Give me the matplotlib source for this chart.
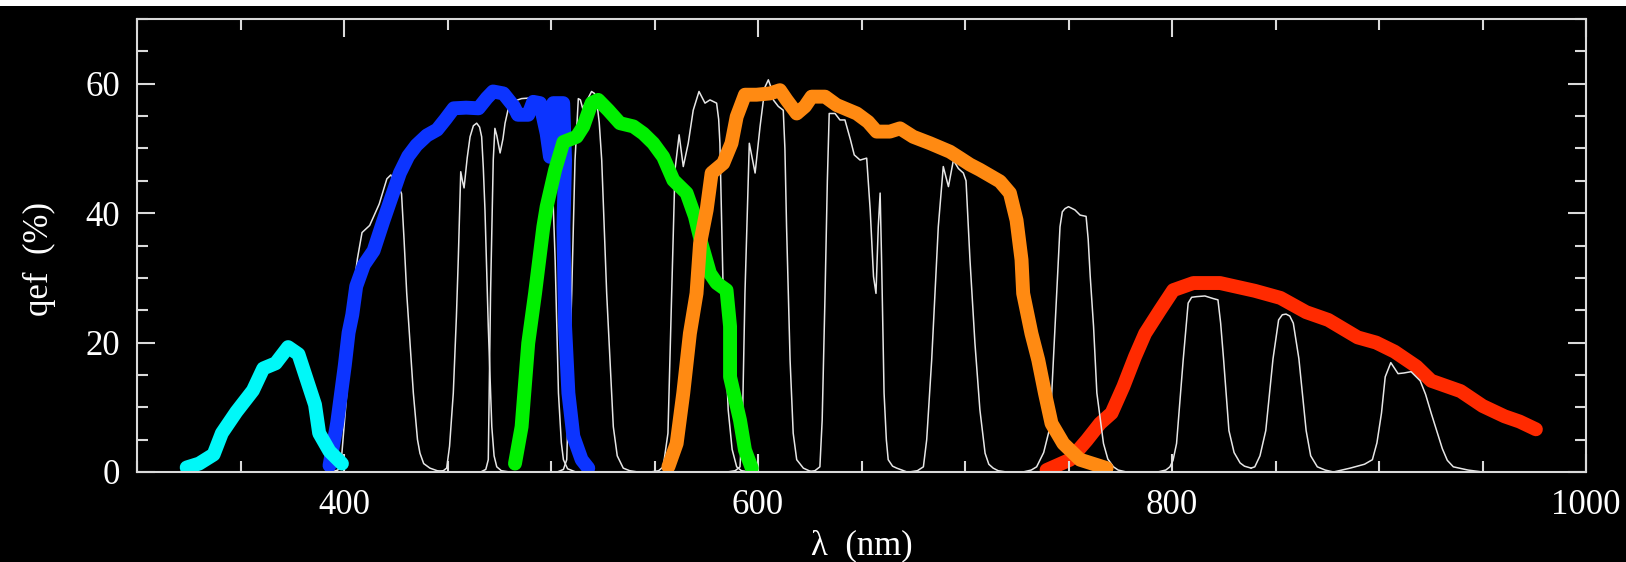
import matplotlib
matplotlib.use('Agg')
import matplotlib.pyplot as plt
from matplotlib.ticker import MultipleLocator
from matplotlib.patches import Rectangle

plt.rcParams['font.family'] = ['Liberation Serif', 'DejaVu Serif']

# ---- broad-band QE curves (thick coloured) ----
cyan_x = [324, 330, 337, 341, 348, 356, 361, 367, 373, 378, 382, 386, 388, 393, 399]
cyan_y = [0.7, 1.3, 2.7, 6.0, 9.3, 12.6, 16.0, 16.8, 19.3, 18.2, 14.3, 10.4, 6.0, 3.2, 1.3]

blue_x = [393, 396.7, 400.4, 402.2, 404, 405.9, 409.6, 414.3, 418.9, 423, 427, 431, 435, 440, 445, 449,
          453, 459, 465, 469, 472, 477, 482, 484, 489, 491.4, 494.7, 497.9, 499.5, 501.1, 503.5, 505.9,
          506.8, 506, 506.8, 508.4, 510.8, 514.8, 518]
blue_y = [1, 7.6, 16.5, 21.5, 24.3, 28.7, 32, 34.2, 38.7, 42.5, 46.2, 48.8, 50.5, 52, 52.9, 54.5,
          56.2, 56.3, 56.2, 57.8, 58.8, 58.5, 56.5, 55.2, 55.2, 57.2, 57, 52.3, 48.7, 57, 57, 57,
          48.2, 37.9, 22.5, 12.2, 5.5, 1.9, 0.6]

green_x = [482.6, 485.8, 489, 492.3, 496.3, 497.9, 502, 506, 512.4, 515.6, 519.6, 522.8, 527.7, 533.3,
           539.8, 544.6, 549.4, 554.2, 559.1, 565.5, 569.5, 572.7, 576.8, 580, 584.8, 586.5, 586.5,
           591.3, 593.7, 597]
green_y = [1.3, 7, 19.9, 27.6, 37.9, 41, 46.7, 51, 51.8, 53.4, 57, 57.5, 55.9, 53.9,
           53.4, 52.3, 50.8, 48.7, 45.1, 43.1, 39.5, 35.3, 30.7, 29.2, 28.1, 22.5, 14.7,
           8, 3.4, 0.6]

orange_x = [556.7, 560.7, 563.9, 567.1, 570.3, 572, 575.2, 577.6, 583.2, 587.2, 589.7, 593.7, 599.3,
            605.8, 610.6, 613.8, 618.7, 622.7, 625.9, 632.4, 638, 647.7, 653.2, 657.3, 663.7, 668.6,
            675, 683.1, 692.7, 697.6, 702.4, 707.2, 716.9, 721.7, 724.9, 727.3, 728.1, 732.1, 735.4,
            738.6, 741.8, 747.5, 755.6, 768.4]
orange_y = [0.8, 4.4, 12.2, 21.4, 27.6, 35.3, 40.5, 46.2, 47.7, 50.8, 54.9, 58.3, 58.3,
            58.5, 59, 57.5, 55.4, 56.5, 58, 58, 56.7, 55.4, 54.1, 52.6, 52.6, 53.1,
            51.8, 50.8, 49.5, 48.5, 47.5, 46.7, 44.9, 43.1, 38.9, 32.8, 27.6, 21.4, 17.3,
            12.2, 7.5, 4.4, 1.9, 0.6]

red_x = [739.4, 750.7, 758.8, 765.2, 770.8, 776.5, 782.1, 787, 794.2, 800.6, 810.3, 823.2, 840,
         852.4, 864.8, 875.5, 889.7, 898.6, 907.5, 918.1, 925.2, 939.4, 950.1, 960.7, 967.9, 975.8]
red_y = [0.3, 1.9, 4.9, 7.5, 9.1, 13.2, 17.8, 21.4, 25, 28.1, 29.2, 29.2, 28,
         26.9, 24.7, 23.5, 20.8, 20, 18.6, 16.3, 14.1, 12.5, 10.2, 8.6, 7.8, 6.6]

# ---- narrow-band filter transmission curves (thin white) ----
f1_x = [394, 397, 398.5, 401.3, 404, 406.5, 408.7, 412.4, 417, 420.7, 422.6, 424.5, 426.3, 427.8, 429,
        430.3, 433.5, 435.5, 436.7, 438.5, 441.5, 445, 450]
f1_y = [0, 0.3, 1, 12, 27, 33, 37, 38.1, 41.4, 45.3, 45.9, 45, 44.2, 43, 36,
        27.6, 12.2, 5, 2.9, 1.3, 0.6, 0.2, 0]
f2_x = [444, 448, 449.6, 451, 452.8, 454.3, 455.2, 456.4, 457.2, 458, 459.5, 460.9, 462.5, 464.1, 465.5,
        466.5, 467.3, 468.1, 469.7, 471.4, 472.5, 473.8, 476, 480]
f2_y = [0, 0.2, 0.6, 4, 12.2, 24, 32.8, 46.4, 45, 43.9, 48.5, 51.8, 53.5, 53.9, 53.3,
        51.8, 47, 40.5, 22.5, 7, 2.5, 0.8, 0.2, 0]
f3_x = [466, 468.5, 469.7, 470.8, 472.1, 472.9, 473.8, 475.4, 476.8, 477.8, 479.4, 482, 485.8, 490, 495,
        498.5, 500.3, 502, 503.6, 505, 506, 508, 512]
f3_y = [0, 0.4, 1.9, 27.6, 48.2, 53.1, 52, 49.3, 51.5, 53.9, 56.2, 57.3, 57.7, 57.8, 57.5,
        54, 48.2, 32.8, 12.2, 4.5, 1.9, 0.5, 0]
f4_x = [503, 506, 507.6, 510, 511.6, 513.2, 514.2, 515.3, 517.5, 519.6, 521, 522, 523.3, 524.5, 526.9,
        530.1, 532, 534.9, 538, 542]
f4_y = [0, 0.4, 1.9, 27.6, 48.2, 57.7, 57.5, 56.2, 57.5, 58.8, 58.5, 57.5, 54, 48.2, 27.6,
        7, 2.5, 0.6, 0.2, 0]
f5_x = [548, 552, 554.2, 556.5, 558.3, 559.9, 561.9, 563.9, 566.3, 568.7, 571.5, 574.4, 576.8, 580, 581,
        581.6, 583.2, 585.6, 587.5, 589.7, 592, 596]
f5_y = [0, 0.2, 0.8, 6, 27.6, 46.7, 52.1, 47.2, 50.8, 55.9, 58.8, 57, 57.5, 57, 54.5,
        50.8, 27.6, 9.6, 3.5, 0.8, 0.2, 0]
f6_x = [585, 589, 591.3, 592.5, 593.7, 595.8, 597.2, 598.6, 601, 603.4, 605, 606.2, 607.4, 609.8, 612.2,
        613, 613.8, 615.5, 617, 618.7, 621.9, 626]
f6_y = [0, 0.2, 0.8, 8, 27.6, 50.8, 48.5, 46.2, 53.4, 59.5, 60.6, 59.5, 57.5, 56.5, 55.9,
        50, 37.9, 17.3, 6, 1.9, 0.6, 0]
f7_x = [623, 627.5, 629.9, 631, 632.4, 633.5, 634.4, 637.2, 639.6, 642, 644.7, 646.5, 649.3, 652.5, 654.2,
        655.8, 657, 658.1, 659, 659.7, 660.9, 662, 662.9, 665, 667, 672]
f7_y = [0, 0.2, 0.8, 8, 27.6, 45, 55.4, 55.4, 54.4, 54.4, 51.3, 49, 48.2, 48.5, 40.5,
        30.2, 27.6, 37.9, 43.1, 32.8, 12.2, 5, 1.9, 0.9, 0.6, 0]
f8_x = [673, 677, 679.9, 681.5, 683.9, 687.1, 689.5, 692, 694.4, 696.8, 699.2, 700.5, 702.4, 704.8, 707.2,
        709.7, 711.5, 713.6, 716, 720]
f8_y = [0, 0.2, 0.8, 5, 17.3, 37.9, 47.2, 44.1, 48.2, 46.9, 46.2, 45, 32.8, 19.9, 9.6,
        2.9, 1.2, 0.6, 0.2, 0]
f9_x = [728, 732, 734.6, 738, 741.1, 743.5, 745.9, 747, 748.3, 750, 753.1, 755.6, 758.5, 759.5, 760.5,
        762.1, 763.7, 766.9, 769, 771.7, 774, 778]
f9_y = [0, 0.3, 0.8, 3, 7, 22.5, 37.9, 40.2, 40.7, 41, 40.5, 39.7, 39.5, 36, 30.2,
        22.5, 12.2, 4.4, 2, 0.8, 0.3, 0]
f10_x = [793, 797, 799, 800.5, 802.2, 805.4, 807.8, 809.5, 811.9, 815.9, 819.9, 822.2, 823.5, 824.9,
         827.5, 830, 832.9, 835, 838.2]
f10_y = [0, 0.3, 0.8, 1.8, 4.4, 17.3, 26.1, 27, 27.1, 27.2, 26.8, 26.6, 23, 17.5,
         6.4, 3, 1.4, 0.9, 0.6]
f11_x = [838.2, 840, 842.5, 845.3, 848.8, 851.5, 853.3, 855.1, 856.9, 858.6, 861.3, 864.8, 867, 870.2,
         874, 878]
f11_y = [0.6, 0.8, 2.5, 6.4, 17.5, 23.5, 24.3, 24.4, 24.1, 23, 17.5, 6.4, 2.5, 0.8, 0.3, 0]
f12_x = [878, 886.1, 893, 896.8, 899, 901.2, 903, 905.7, 909.2, 912, 915.5, 919.9, 922.5, 925.2, 930.6,
         933, 935.9, 943, 950]
f12_y = [0, 0.6, 1.2, 1.9, 4.5, 9.1, 14.7, 16.9, 15.2, 15.3, 15.5, 14.1, 12, 9.1, 3.6,
         1.8, 0.8, 0.3, 0]

x_label = 'λ  (nm)'
y_label = 'qef  (%)'

W, H = 1626, 562
fig = plt.figure(figsize=(W / 100, H / 100), dpi=100, facecolor='black')
ax = fig.add_axes([137 / W, (H - 472) / H, 1449 / W, 453 / H])
ax.set_facecolor('black')

# white strip at the very top of the image
fig.add_artist(Rectangle((0, 1 - 6 / H), 1, 6 / H, transform=fig.transFigure,
                         facecolor='white', edgecolor='none', zorder=10))

filters = [(f1_x, f1_y), (f2_x, f2_y), (f3_x, f3_y), (f4_x, f4_y), (f5_x, f5_y), (f6_x, f6_y),
           (f7_x, f7_y), (f8_x, f8_y), (f9_x, f9_y), (f10_x, f10_y), (f11_x, f11_y), (f12_x, f12_y)]
for fx, fy in filters:
    ax.plot(fx, fy, color='#e6e6e6', lw=1.1, zorder=2, solid_joinstyle='round')

lw = 10
kw = dict(lw=lw, solid_capstyle='round', solid_joinstyle='round')
ax.plot(red_x, red_y, color='#ff2a00', zorder=1.5, **kw)
ax.plot(blue_x, blue_y, color='#0c34ff', zorder=3, **kw)
ax.plot(cyan_x, cyan_y, color='#00f8f8', zorder=3.1, **kw)
ax.plot(green_x, green_y, color='#00f000', zorder=3.2, **kw)
ax.plot(orange_x, orange_y, color='#ff8a12', zorder=3.3, **kw)

ax.set_xlim(300, 1000)
ax.set_ylim(0, 70)
ax.xaxis.set_major_locator(MultipleLocator(200))
ax.xaxis.set_minor_locator(MultipleLocator(50))
ax.yaxis.set_major_locator(MultipleLocator(20))
ax.yaxis.set_minor_locator(MultipleLocator(5))

axis_col = '#dadada'
for s in ax.spines.values():
    s.set_color(axis_col)
    s.set_linewidth(1.5)
    s.set_zorder(5)
ax.tick_params(which='both', direction='in', top=True, right=True, color=axis_col,
               labelcolor='white', width=1.5, labelsize=25, pad=12)
ax.tick_params(which='major', length=13)
ax.tick_params(which='minor', length=8)

ax.set_xlabel(x_label, color='white', fontsize=25, va='center')
ax.xaxis.set_label_coords(0.5, -0.163)
ax.set_ylabel(y_label, color='white', fontsize=25, va='center')
ax.yaxis.set_label_coords(-0.067, 0.47)

fig.savefig('out.png', dpi=100, facecolor='black')
